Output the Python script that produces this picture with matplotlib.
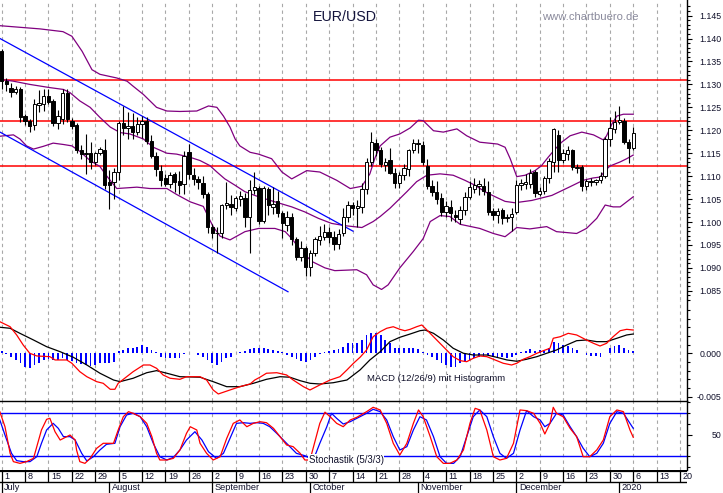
import matplotlib.pyplot as plt
import numpy as np

plt.rcParams['font.family'] = ['Liberation Sans', 'DejaVu Sans']

# daily EUR/USD candles, Jul 1 2019 .. Jan 6 2020 (one per weekday)
opens = [1.1372, 1.1307, 1.1293, 1.1283, 1.1289, 1.1231, 1.1221, 1.1212, 1.1256, 1.1257,
         1.1275, 1.1264, 1.1216, 1.1224, 1.1282, 1.1221, 1.1211, 1.1156, 1.1148, 1.1150,
         1.1130, 1.1150, 1.1157, 1.1087, 1.1087, 1.1110, 1.1215, 1.1205, 1.1210, 1.1196,
         1.1213, 1.1221, 1.1177, 1.1145, 1.1111, 1.1096, 1.1082, 1.1104, 1.1089, 1.1083,
         1.1152, 1.1103, 1.1094, 1.1084, 1.1062, 1.0990, 1.0975, 1.0975, 1.1037, 1.1040,
         1.1031, 1.1050, 1.1053, 1.1011, 1.1070, 1.1074, 1.1002, 1.1073, 1.1032, 1.1045,
         1.1019, 1.0993, 1.1012, 1.0962, 1.0924, 1.0944, 1.0903, 1.0932, 1.0960, 1.0968,
         1.0978, 1.0968, 1.0953, 1.0975, 1.1011, 1.1038, 1.1030, 1.1033, 1.1073, 1.1130,
         1.1172, 1.1158, 1.1125, 1.1136, 1.1107, 1.1084, 1.1102, 1.1116, 1.1156, 1.1170,
         1.1168, 1.1123, 1.1079, 1.1066, 1.1053, 1.1022, 1.1033, 1.1015, 1.1006, 1.1026,
         1.1055, 1.1071, 1.1078, 1.1079, 1.1066, 1.1024, 1.1016, 1.1026, 1.1008, 1.1010,
         1.1022, 1.1080, 1.1082, 1.1082, 1.1108, 1.1062, 1.1068, 1.1095, 1.1130, 1.1190,
         1.1135, 1.1148, 1.1156, 1.1118, 1.1121, 1.1078, 1.1089, 1.1087, 1.1091, 1.1100,
         1.1182, 1.1203, 1.1218, 1.1220, 1.1175, 1.1162]
highs = [1.1377, 1.1315, 1.1302, 1.1296, 1.1295, 1.1236, 1.1225, 1.1268, 1.1287, 1.1289,
         1.1289, 1.1268, 1.1245, 1.1289, 1.1290, 1.1226, 1.1215, 1.1167, 1.1192, 1.1174,
         1.1153, 1.1164, 1.1181, 1.1113, 1.1117, 1.1220, 1.1253, 1.1240, 1.1238, 1.1230,
         1.1232, 1.1228, 1.1190, 1.1152, 1.1125, 1.1105, 1.1108, 1.1110, 1.1111, 1.1155,
         1.1170, 1.1117, 1.1100, 1.1100, 1.1066, 1.0995, 1.0990, 1.1040, 1.1087, 1.1058,
         1.1057, 1.1067, 1.1063, 1.1091, 1.1110, 1.1078, 1.1078, 1.1076, 1.1076, 1.1068,
         1.1025, 1.1025, 1.1019, 1.0968, 1.0958, 1.0948, 1.0940, 1.0967, 1.0992, 1.0995,
         1.0990, 1.0980, 1.0985, 1.1030, 1.1045, 1.1044, 1.1048, 1.1085, 1.1139, 1.1196,
         1.1182, 1.1163, 1.1139, 1.1162, 1.1117, 1.1108, 1.1126, 1.1160, 1.1180, 1.1180,
         1.1176, 1.1138, 1.1092, 1.1090, 1.1064, 1.1045, 1.1047, 1.1026, 1.1035, 1.1065,
         1.1089, 1.1097, 1.1092, 1.1097, 1.1089, 1.1030, 1.1030, 1.1030, 1.1017, 1.1030,
         1.1091, 1.1093, 1.1105, 1.1115, 1.1113, 1.1076, 1.1100, 1.1140, 1.1206, 1.1200,
         1.1160, 1.1165, 1.1160, 1.1127, 1.1124, 1.1093, 1.1095, 1.1093, 1.1110, 1.1185,
         1.1228, 1.1242, 1.1253, 1.1226, 1.1180, 1.1207]
lows = [1.1289, 1.1285, 1.1272, 1.1278, 1.1218, 1.1212, 1.1197, 1.1200, 1.1240, 1.1242,
        1.1258, 1.1210, 1.1203, 1.1214, 1.1218, 1.1203, 1.1150, 1.1138, 1.1105, 1.1116,
        1.1125, 1.1146, 1.1073, 1.1029, 1.1050, 1.1092, 1.1190, 1.1180, 1.1180, 1.1190,
        1.1184, 1.1170, 1.1140, 1.1100, 1.1078, 1.1078, 1.1075, 1.1066, 1.1062, 1.1060,
        1.1093, 1.1081, 1.1072, 1.1053, 1.0975, 1.0965, 1.0932, 1.0965, 1.1028, 1.1016,
        1.1025, 1.1035, 1.0990, 1.0932, 1.1062, 1.0995, 1.0998, 1.1015, 1.1018, 1.1010,
        1.0966, 1.0980, 1.0950, 1.0918, 1.0915, 1.0882, 1.0882, 1.0925, 1.0950, 1.0960,
        1.0955, 1.0940, 1.0942, 1.0970, 1.1000, 1.1015, 1.0990, 1.1020, 1.1060, 1.1123,
        1.1143, 1.1120, 1.1112, 1.1104, 1.1075, 1.1074, 1.1091, 1.1101, 1.1150, 1.1150,
        1.1125, 1.1073, 1.1056, 1.1040, 1.1014, 1.1012, 1.1003, 1.1000, 1.0995, 1.1015,
        1.1050, 1.1064, 1.1058, 1.1058, 1.1015, 1.1005, 1.0998, 1.0995, 1.1000, 1.0980,
        1.1018, 1.1070, 1.1072, 1.1075, 1.1055, 1.1056, 1.1060, 1.1085, 1.1110, 1.1110,
        1.1128, 1.1135, 1.1113, 1.1106, 1.1068, 1.1070, 1.1078, 1.1080, 1.1086, 1.1096,
        1.1165, 1.1195, 1.1213, 1.1170, 1.1128, 1.1158]
closes = [1.1307, 1.1300, 1.1283, 1.1291, 1.1228, 1.1221, 1.1210, 1.1258, 1.1259, 1.1275,
          1.1261, 1.1216, 1.1231, 1.1282, 1.1224, 1.1210, 1.1156, 1.1149, 1.1150, 1.1130,
          1.1150, 1.1159, 1.1080, 1.1080, 1.1110, 1.1215, 1.1205, 1.1210, 1.1196, 1.1213,
          1.1221, 1.1177, 1.1145, 1.1116, 1.1092, 1.1082, 1.1102, 1.1088, 1.1081, 1.1145,
          1.1105, 1.1094, 1.1088, 1.1062, 1.0990, 1.0975, 1.0977, 1.1037, 1.1041, 1.1032,
          1.1053, 1.1057, 1.1011, 1.1069, 1.1077, 1.1002, 1.1074, 1.1037, 1.1040, 1.1019,
          1.0997, 1.1012, 1.0962, 1.0924, 1.0944, 1.0903, 1.0932, 1.0962, 1.0970, 1.0978,
          1.0968, 1.0953, 1.0973, 1.1011, 1.1038, 1.1031, 1.1034, 1.1073, 1.1130, 1.1174,
          1.1158, 1.1127, 1.1131, 1.1107, 1.1084, 1.1102, 1.1118, 1.1156, 1.1172, 1.1172,
          1.1130, 1.1079, 1.1066, 1.1051, 1.1022, 1.1035, 1.1019, 1.1010, 1.1027, 1.1055,
          1.1077, 1.1080, 1.1082, 1.1067, 1.1022, 1.1016, 1.1023, 1.1008, 1.1011, 1.1018,
          1.1080, 1.1085, 1.1088, 1.1107, 1.1063, 1.1068, 1.1096, 1.1132, 1.1202, 1.1135,
          1.1150, 1.1156, 1.1121, 1.1121, 1.1078, 1.1089, 1.1087, 1.1091, 1.1100, 1.1180,
          1.1204, 1.1217, 1.1222, 1.1175, 1.1162, 1.1194]

# Bollinger bands (day index, price)
upper_x = [-0.4, 8.2, 13.1, 15.0, 17.2, 19.3, 21.0, 24.6, 26.8, 28.1, 30.3, 33.1, 35.3, 38.1, 41.7,
           44.2, 46.0, 47.4, 48.8, 49.9, 50.9, 53.1, 54.9, 57.7, 59.9, 62.0, 65.2, 68.0, 71.6, 74.5,
           77.0, 78.7, 79.8, 80.9, 83.0, 85.1, 87.3, 89.1, 90.1, 92.3, 94.4, 97.3, 99.4, 102.2, 106.0,
           107.6, 108.7, 110.1, 111.9, 114.0, 115.4, 116.8, 118.3, 119.7, 121.5, 124.0, 126.5, 128.6,
           129.3, 130.4, 131.5, 132.9, 135.0]
upper_y = [1.1428, 1.1421, 1.1415, 1.1405, 1.1372, 1.1332, 1.1322, 1.1314, 1.1307, 1.1296, 1.1278,
           1.1250, 1.1242, 1.1241, 1.1242, 1.1253, 1.1250, 1.1231, 1.1207, 1.1181, 1.1166, 1.1152,
           1.1148, 1.1138, 1.1109, 1.1094, 1.1112, 1.1109, 1.1091, 1.1073, 1.1078, 1.1105, 1.1140,
           1.1166, 1.1185, 1.1192, 1.1205, 1.1222, 1.1221, 1.1199, 1.1196, 1.1203, 1.1188, 1.1174,
           1.1170, 1.1163, 1.1138, 1.1099, 1.1102, 1.1112, 1.1123, 1.1141, 1.1159, 1.1174, 1.1188,
           1.1196, 1.1190, 1.1179, 1.1188, 1.1213, 1.1231, 1.1235, 1.1235]
mid_x = [-0.4, 2.5, 6.0, 10.3, 13.2, 14.6, 16.7, 18.9, 21.0, 23.2, 25.3, 27.4, 30.3, 32.4, 35.3,
         37.4, 40.3, 42.4, 44.5, 46.0, 47.7, 49.9, 52.0, 54.9, 58.4, 62.0, 64.8, 67.7, 70.5, 73.4,
         77.0, 79.4, 80.9, 83.0, 86.6, 88.7, 90.9, 93.7, 96.5, 99.0, 101.2, 103.3, 105.5, 107.6,
         109.7, 113.3, 117.6, 121.5, 124.3, 126.4, 127.9, 129.0, 130.0, 132.2, 133.6, 135.0]
mid_y = [1.1311, 1.1307, 1.1300, 1.1293, 1.1289, 1.1282, 1.1264, 1.1250, 1.1228, 1.1207, 1.1195,
         1.1192, 1.1181, 1.1163, 1.1150, 1.1148, 1.1141, 1.1134, 1.1123, 1.1109, 1.1094, 1.1080,
         1.1066, 1.1055, 1.1044, 1.1033, 1.1022, 1.1008, 1.0997, 1.0992, 1.0988, 1.1001, 1.1012,
         1.1030, 1.1066, 1.1088, 1.1102, 1.1105, 1.1102, 1.1091, 1.1080, 1.1066, 1.1055, 1.1045,
         1.1042, 1.1047, 1.1058, 1.1077, 1.1091, 1.1096, 1.1098, 1.1112, 1.1122, 1.1131, 1.1138,
         1.1146]
lower_x = [-0.4, 2.5, 3.9, 5.3, 6.8, 8.9, 11.0, 13.2, 15.0, 16.7, 18.9, 21.0, 22.4, 24.6, 28.9,
           31.7, 35.3, 37.4, 40.3, 43.1, 44.5, 45.2, 46.7, 48.8, 52.0, 54.9, 58.4, 60.6, 62.0, 64.1,
           66.3, 69.1, 71.2, 75.9, 78.0, 79.4, 81.2, 82.6, 85.1, 88.0, 90.1, 91.6, 93.7, 95.8, 98.0,
           102.2, 105.1, 107.6, 109.0, 110.1, 112.9, 116.5, 118.6, 122.9, 125.0, 127.2, 129.0,
           130.7, 132.2, 135.0]
lower_y = [1.1187, 1.1190, 1.1181, 1.1166, 1.1159, 1.1165, 1.1172, 1.1169, 1.1166, 1.1154, 1.1134,
           1.1121, 1.1101, 1.1073, 1.1076, 1.1073, 1.1073, 1.1060, 1.1044, 1.1034, 1.1004, 1.0990,
           1.0969, 1.0961, 1.0979, 1.0986, 1.0986, 1.0979, 1.0964, 1.0936, 1.0914, 1.0900, 1.0894,
           1.0896, 1.0885, 1.0863, 1.0853, 1.0863, 1.0900, 1.0936, 1.0964, 1.1001, 1.1014, 1.1012,
           1.0995, 1.0986, 1.0975, 1.0968, 1.0979, 1.0988, 1.0985, 1.0990, 1.0979, 1.0975, 1.0986,
           1.1008, 1.1037, 1.1033, 1.1033, 1.1055]

# trend channel and horizontal levels
chan_up_x, chan_up_y = [-0.36, 75.1], [1.1400, 1.0980]
chan_lo_x, chan_lo_y = [-0.36, 61.2], [1.1196, 1.0848]
levels = [1.1309, 1.1220, 1.1122]

# MACD (12/26/9)
macd_x = [-0.4, 1.8, 3.2, 4.6, 6.0, 7.5, 10.3, 11.4, 13.9, 15.0, 16.7, 18.2, 20.3, 21.7, 23.2,
          24.2, 24.9, 26.0, 28.1, 30.3, 31.7, 33.1, 34.5, 36.0, 38.1, 39.5, 42.4, 43.8, 45.2, 46.3,
          48.8, 50.9, 53.1, 54.1, 55.2, 56.6, 58.8, 60.9, 62.3, 64.5, 65.9, 68.0, 70.2, 72.3, 73.8,
          75.2, 76.6, 78.0, 79.4, 80.9, 82.3, 83.7, 85.1, 86.2, 87.3, 88.7, 89.8, 90.9, 92.3, 94.4,
          96.5, 98.0, 99.4, 100.8, 102.2, 103.7, 105.1, 107.2, 109.0, 110.1, 111.5, 112.9, 114.4,
          115.8, 117.2, 117.9, 119.4, 121.1, 122.9, 125.0, 126.5, 127.9, 129.3, 130.7, 132.2, 133.6,
          135.0]
macd_y = [0.00364, 0.00306, 0.00211, 0.00095, 0.0, -0.00031, -0.00039, -0.00077, -0.00077, -0.00115,
          -0.00212, -0.0027, -0.00327, -0.00346, -0.00415, -0.00415, -0.00346, -0.003, -0.00212,
          -0.00135, -0.00135, -0.00173, -0.0025, -0.00288, -0.003, -0.0027, -0.0027, -0.00308,
          -0.00423, -0.00469, -0.00423, -0.00385, -0.00354, -0.00308, -0.00276, -0.0023, -0.00224,
          -0.0025, -0.00308, -0.00385, -0.00423, -0.00365, -0.00308, -0.0027, -0.00192, -0.00115,
          -0.00046, 0.00038, 0.00191, 0.00249, 0.00288, 0.00306, 0.00276, 0.0026, 0.00276, 0.00306,
          0.00326, 0.00268, 0.00191, 0.00076, -0.00039, -0.00085, -0.00097, -0.00058, -0.00031,
          -0.00039, -0.00069, -0.00115, -0.00135, -0.00115, -0.00069, -0.00039, 0.0, 0.0003,
          0.00058, 0.00173, 0.00191, 0.0023, 0.00211, 0.00153, 0.00115, 0.00084, 0.00115, 0.00191,
          0.0026, 0.00276, 0.00268]
sig_x = [-0.4, 1.8, 3.9, 6.8, 9.6, 12.5, 15.3, 18.2, 21.0, 23.9, 25.3, 28.1, 31.0, 33.1, 35.3,
         38.1, 42.4, 45.2, 48.1, 50.9, 53.8, 56.6, 59.5, 61.6, 63.8, 65.9, 68.0, 70.9, 73.8, 76.6,
         78.7, 80.9, 83.0, 85.1, 87.3, 89.4, 90.5, 92.3, 94.4, 96.5, 98.7, 100.8, 103.7, 105.8,
         108.0, 110.1, 112.2, 114.4, 116.5, 118.6, 120.8, 122.9, 125.0, 127.2, 129.3, 131.5, 133.6,
         135.0]
sig_y = [0.003, 0.00288, 0.0023, 0.00153, 0.00076, 0.00018, -0.00046, -0.00135, -0.0023, -0.00308,
         -0.00327, -0.00288, -0.00224, -0.002, -0.0023, -0.0027, -0.00276, -0.00327, -0.00385,
         -0.00385, -0.00346, -0.003, -0.0027, -0.00276, -0.00316, -0.00346, -0.00354, -0.00339,
         -0.00308, -0.00192, -0.00077, 0.00018, 0.00134, 0.00184, 0.00222, 0.0026, 0.00268, 0.0023,
         0.00153, 0.00058, 0.0, -0.0002, -0.0002, -0.00046, -0.00077, -0.00092, -0.00069, -0.00039,
         0.0, 0.00038, 0.00096, 0.00145, 0.00153, 0.00134, 0.00134, 0.00173, 0.00211, 0.00222]
hist = [0.00026, -0.00012, -0.00046, -0.00077, -0.00115, -0.00161, -0.00173, -0.00135, -0.00107, -0.00077,
        -0.00069, -0.00077, -0.00077, -0.00058, -0.00077, -0.00084, -0.00107, -0.00123, -0.00135, -0.00146,
        -0.00135, -0.00115, -0.00115, -0.00107, -0.00096, 0.00031, 0.00038, 0.00058, 0.00066, 0.00077,
        0.00096, 0.00077, 0.00038, 0.0002, -0.00046, -0.00058, -0.00058, -0.00058, -0.00058, -0.00008,
        0.0, 0.0, -0.0002, -0.00046, -0.00077, -0.00107, -0.00135, -0.00096, -0.00058, -0.00038,
        0.0, 0.0002, 0.00026, 0.00046, 0.00058, 0.00058, 0.00058, 0.0005, 0.00038, 0.00031,
        0.0002, -0.0002, -0.00046, -0.00069, -0.00084, -0.00096, -0.00077, -0.00046, -0.00012, 0.0002,
        0.00031, 0.00038, 0.00046, 0.00077, 0.00115, 0.00123, 0.00115, 0.00153, 0.00211, 0.00238,
        0.0023, 0.00211, 0.00153, 0.00115, 0.00058, 0.00058, 0.00058, 0.00058, 0.00058, 0.00046,
        0.0002, -0.0002, -0.00046, -0.00077, -0.00107, -0.00135, -0.00161, -0.00153, -0.00115, -0.00096,
        -0.00077, -0.00058, -0.00046, -0.00031, -0.0002, -0.00046, -0.00058, -0.00046, -0.00058, -0.00046,
        -0.0002, 0.0002, 0.00026, 0.00046, 0.00031, 0.00038, 0.00031, 0.00058, 0.00135, 0.00115,
        0.00096, 0.00084, 0.00058, 0.00038, 0.0, -0.0002, -0.00031, -0.00031, -0.00046, 0.0,
        0.00058, 0.00084, 0.00096, 0.00058, 0.00038, 0.00031]

# Stochastik (5/3/3)
stk_x = [-0.4, 0.7, 1.8, 2.5, 3.9, 5.3, 6.8, 7.5, 8.5, 9.6, 10.3, 11.4, 12.5, 13.9, 14.6, 15.7,
         16.0, 16.7, 17.8, 18.9, 20.3, 21.7, 23.9, 24.9, 26.0, 27.1, 28.1, 29.6, 31.0, 32.1, 33.1,
         33.8, 35.3, 36.7, 38.1, 39.5, 40.3, 41.7, 42.4, 43.8, 45.2, 46.7, 48.1, 49.5, 50.9, 52.4,
         53.8, 55.2, 56.6, 58.1, 59.5, 60.9, 62.3, 63.8, 64.8, 65.9, 68.0, 69.1, 70.2, 71.6, 73.0,
         74.5, 75.9, 78.0, 79.4, 80.9, 82.3, 83.7, 85.1, 86.6, 88.0, 89.1, 90.1, 91.6, 93.0, 94.4,
         95.8, 97.3, 98.7, 100.1, 101.2, 102.2, 103.7, 105.1, 106.5, 107.9, 109.4, 110.8, 112.2,
         113.7, 115.1, 116.1, 117.2, 117.9, 118.6, 120.0, 121.5, 122.9, 124.3, 125.7, 127.2, 128.6,
         130.0, 131.5, 132.9, 134.3, 135.0]
stk_y = [81.9, 60.9, 23.7, 12.1, 9.7, 12.1, 16.7, 33.0, 56.3, 71.2, 72.6, 53.9, 42.3, 47.0, 49.3,
         42.3, 28.4, 12.1, 9.7, 16.7, 30.7, 37.7, 37.7, 56.3, 74.9, 81.9, 79.6, 74.9, 65.6, 47.0,
         23.7, 14.4, 14.4, 16.7, 28.4, 51.6, 60.9, 56.3, 37.7, 23.7, 14.4, 19.0, 44.6, 65.6, 70.3,
         60.9, 65.6, 67.9, 66.5, 58.6, 47.0, 35.4, 33.0, 23.7, 14.4, 14.4, 65.6, 81.2, 74.9, 65.6,
         60.9, 70.3, 74.0, 81.9, 88.0, 84.3, 65.6, 37.7, 21.4, 37.7, 65.6, 84.3, 74.9, 47.0, 19.0,
         9.7, 9.7, 14.4, 28.4, 65.6, 86.6, 84.3, 56.3, 19.0, 14.4, 16.7, 37.7, 84.3, 83.3, 79.6,
         65.6, 50.7, 65.6, 88.0, 79.6, 74.9, 58.6, 47.0, 19.0, 19.0, 28.4, 42.3, 74.9, 84.3, 81.9,
         56.3, 46.1]
std_x = [-0.4, 0.7, 2.1, 3.2, 4.6, 6.05, 7.5, 8.5, 9.6, 11.0, 12.1, 13.2, 14.6, 15.7, 17.1, 18.2,
         19.6, 21.0, 22.4, 24.2, 25.3, 26.7, 28.1, 29.6, 31.0, 32.4, 33.8, 35.3, 36.7, 38.1, 39.5,
         41.3, 42.8, 44.2, 45.9, 47.4, 48.8, 50.2, 51.7, 53.1, 54.5, 55.9, 57.3, 58.8, 60.2, 61.6,
         63.0, 64.8, 66.6, 68.0, 69.5, 70.5, 71.6, 73.0, 74.5, 76.6, 78.0, 79.4, 80.9, 82.3, 83.7,
         85.1, 86.6, 88.0, 89.4, 90.8, 92.3, 93.7, 95.1, 96.6, 98.0, 99.4, 100.8, 102.2, 103.7,
         105.1, 106.5, 107.9, 109.4, 110.8, 112.2, 113.7, 115.1, 116.1, 117.2, 118.6, 120.0, 121.5,
         122.9, 124.3, 125.7, 127.2, 128.6, 130.0, 131.5, 132.9, 134.3, 135.0]
std_y = [70.3, 49.3, 23.7, 13.5, 12.1, 12.1, 19.0, 37.7, 56.3, 65.6, 58.6, 47.0, 47.0, 42.3, 23.7,
         13.0, 19.0, 28.4, 36.3, 37.7, 60.9, 77.3, 79.6, 74.9, 60.9, 37.7, 19.0, 14.4, 18.1, 28.4,
         42.3, 53.9, 42.3, 26.0, 16.7, 23.7, 44.6, 65.6, 66.5, 65.6, 66.5, 65.6, 60.9, 51.6, 42.3,
         33.0, 23.7, 20.4, 14.4, 37.7, 60.9, 79.6, 72.6, 64.7, 67.9, 74.9, 79.6, 85.2, 81.9, 70.3,
         47.0, 28.4, 33.0, 56.3, 74.9, 70.3, 47.0, 19.0, 9.7, 9.7, 19.0, 47.0, 74.9, 84.3, 74.9,
         47.0, 23.7, 16.7, 23.7, 56.3, 83.3, 74.9, 70.3, 60.9, 65.6, 79.6, 77.3, 60.9, 47.0, 30.7,
         19.0, 23.7, 37.7, 65.6, 81.9, 79.6, 65.6, 58.6]

# date axis
week_days = [1, 8, 15, 22, 29, 5, 12, 19, 26, 2, 9, 16, 23, 30, 7, 14, 21, 28,
             4, 11, 18, 25, 2, 9, 16, 23, 30, 6, 13, 20]
month_names = ["July", "August", "September", "October", "November", "December", "2020"]
month_start = [0, 23, 45, 66, 89, 110, 132]

W, H = 723, 493
fig = plt.figure(figsize=(W / 100, H / 100), dpi=100)
RIGHT = 687
XLIM = (-0.363, 146.49)
week_idx = [5 * i for i in range(len(week_days))]
ink = '#10102a'
TICK_PX = 5
LABEL_PAD = (721 - RIGHT - TICK_PX) * 0.72  # labels end at x = 721 px


def panel(top, bottom):
    a = fig.add_axes([0, 1 - bottom / H, RIGHT / W, (bottom - top) / H])
    a.set_xlim(*XLIM)
    for s in ['left', 'top', 'bottom']:
        a.spines[s].set_visible(False)
    a.spines['right'].set_linewidth(1.0)
    a.set_xticks([])
    a.yaxis.tick_right()
    a.tick_params(axis='y', which='major', length=TICK_PX * 0.72, width=0.8, labelsize=6.3,
                  pad=LABEL_PAD, labelcolor=ink)
    a.tick_params(axis='y', which='minor', length=3 * 0.72, width=0.8)
    for w in week_idx:
        a.axvline(w, color='#a8a8a8', lw=0.8, ls=(0, (3, 3)), zorder=0)
    return a


def right_align(a):
    for lbl in a.get_yticklabels():
        lbl.set_horizontalalignment('right')


# price panel
ax = panel(0, 300)
ax.set_ylim(1.0835, 1.1484)
ax.set_yticks(np.arange(1.085, 1.1451, 0.005))
ax.set_yticklabels([f"{v:.3f}" for v in np.arange(1.085, 1.1451, 0.005)])
ax.set_yticks(np.arange(1.083, 1.148, 0.001), minor=True)
right_align(ax)
for lv in levels:
    ax.axhline(lv, color='#ff0000', lw=1.1, zorder=1)
ax.plot(upper_x, upper_y, color='#800080', lw=0.9, zorder=2)
ax.plot(mid_x, mid_y, color='#800080', lw=0.9, zorder=2)
ax.plot(lower_x, lower_y, color='#800080', lw=0.9, zorder=2)
ax.plot(chan_up_x, chan_up_y, color='#0000ff', lw=0.9, zorder=2)
ax.plot(chan_lo_x, chan_lo_y, color='#0000ff', lw=0.9, zorder=2)

o, h, l, c = map(np.array, (opens, highs, lows, closes))
xs = np.arange(len(o))
ax.vlines(xs, l, h, color='black', lw=0.8, zorder=4)
body_lo = np.minimum(o, c)
body_h = np.maximum(np.abs(c - o), 0.00005)
ax.bar(xs, body_h, bottom=body_lo, width=0.72,
       color=np.where(c >= o, 'white', 'black'), edgecolor='black', linewidth=0.7, zorder=5)

# MACD panel
axm = panel(300, 401)
axm.set_ylim(-0.0055, 0.00614)
axm.set_yticks([-0.005, 0.0])
axm.set_yticklabels(["-0.005", "0.000"])
axm.set_yticks(np.arange(-0.005, 0.0055, 0.001), minor=True)
right_align(axm)
axm.bar(np.arange(len(hist)), hist, width=0.38, color='#0000ff', zorder=2)
axm.plot(sig_x, sig_y, color='black', lw=0.9, zorder=3)
axm.plot(macd_x, macd_y, color='#ff0000', lw=0.9, zorder=4)
axm.text(78.1, -0.00288, "MACD (12/26/9) mit Histogramm", fontsize=6.8, color=ink,
         ha='left', va='center')

# stochastic panel
axs = panel(401, 470.3)
axs.spines['top'].set_visible(True)
axs.spines['top'].set_linewidth(1.0)
axs.set_ylim(0, 96.8)
axs.set_yticks([50])
axs.set_yticklabels(["50"])
axs.set_yticks([5, 20, 35, 65, 80, 95], minor=True)
right_align(axs)
axs.axhline(80, color='#0000ff', lw=1.0, zorder=1)
axs.axhline(20, color='#0000ff', lw=1.0, zorder=1)
axs.plot(std_x, std_y, color='#0000ff', lw=0.9, zorder=3)
axs.plot(stk_x, stk_y, color='#ff0000', lw=0.9, zorder=4)
axs.text(65.6, 14.4, "Stochastik (5/3/3)", fontsize=6.9, color=ink, ha='left', va='center',
         zorder=6, bbox=dict(facecolor='white', edgecolor='none', pad=0.6))

# date rows
axd = fig.add_axes([0, 0, RIGHT / W, 22.7 / H])
axd.set_xlim(*XLIM)
axd.set_ylim(22.7, 0)
axd.axis('off')
axd.axhline(0.4, color='black', lw=1.6)
axd.axhline(11.7, color='black', lw=1.0)
axd.vlines(week_idx, 0, 11.7, color='black', lw=0.9)
for w, d in zip(week_idx, week_days):
    axd.text(w + 0.55, 6.2, str(d), fontsize=6.5, color=ink, ha='left', va='center')
axd.vlines(month_start, 11.7, 22.7, color='black', lw=0.9)
for m, name in zip(month_start, month_names):
    axd.text(m + 0.55, 17.6, name, fontsize=6.6, color=ink, ha='left', va='center')

fig.text(345 / W, 1 - 17 / H, "EUR/USD", fontsize=10.3, color='#14143c', ha='center', va='center')
fig.text(590 / W, 1 - 17 / H, "www.chartbuero.de", fontsize=8.1, color='#8a8a9c',
         ha='center', va='center')

fig.savefig("out.png", dpi=100)
